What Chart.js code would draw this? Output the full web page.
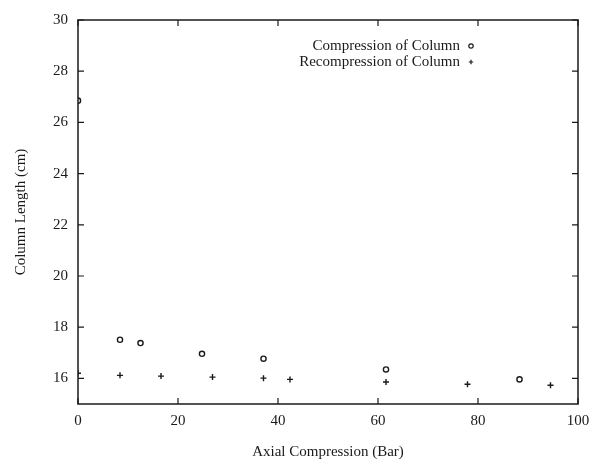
<!DOCTYPE html>
<html><head><meta charset="utf-8">
<script src="https://cdn.jsdelivr.net/npm/chart.js@4/dist/chart.umd.min.js"></script>
<style>html,body{margin:0;padding:0;background:#fff;}#wrap{width:590px;height:462px;}</style>
</head><body><div id="wrap"><canvas id="c" width="590" height="462"></canvas></div>
<script>
const compressionX = [0, 8.4, 12.5, 24.8, 37.1, 61.6, 88.3];
const compressionY = [26.85, 17.51, 17.38, 16.96, 16.77, 16.35, 15.96];
const recompressionX = [0, 8.4, 16.6, 26.9, 37.1, 42.4, 61.6, 77.9, 94.5];
const recompressionY = [16.2, 16.12, 16.09, 16.05, 16.01, 15.96, 15.86, 15.77, 15.73];
const xTicks = [0, 20, 40, 60, 80, 100];
const yTicks = [16, 18, 20, 22, 24, 26, 28, 30];
const seriesNames = ['Compression of Column', 'Recompression of Column'];
const xTitle = 'Axial Compression (Bar)';
const yTitle = 'Column Length (cm)';

const FONT = '"Liberation Serif", "DejaVu Serif", serif';
const INK = '#1a1a1a';

const toPts = (xs, ys) => xs.map((x, i) => ({x: x, y: ys[i]}));

const framePlugin = {
  id: 'frame',
  afterDraw(chart) {
    const {ctx, chartArea: a, scales} = chart;
    ctx.save();
    ctx.strokeStyle = INK;
    ctx.lineWidth = 1.5;
    ctx.strokeRect(a.left, a.top, a.right - a.left, a.bottom - a.top);
    ctx.lineWidth = 1.2;
    const L = 6;
    ctx.beginPath();
    xTicks.forEach(v => {
      const px = scales.x.getPixelForValue(v);
      ctx.moveTo(px, a.bottom); ctx.lineTo(px, a.bottom - L);
      ctx.moveTo(px, a.top); ctx.lineTo(px, a.top + L);
    });
    yTicks.forEach(v => {
      const py = scales.y.getPixelForValue(v);
      ctx.moveTo(a.left, py); ctx.lineTo(a.left + L, py);
      ctx.moveTo(a.right, py); ctx.lineTo(a.right - L, py);
    });
    ctx.stroke();
    // legend (gnuplot style: text then marker)
    ctx.font = '15px ' + FONT;
    ctx.textAlign = 'right';
    ctx.textBaseline = 'middle';
    const lx = 460, mx = 471, ly = [46, 62];
    chart.data.datasets.forEach((ds, i) => {
      ctx.fillStyle = INK;
      ctx.fillText(ds.label, lx, ly[i]);
      ctx.fillStyle = '#fff';
      ctx.strokeStyle = INK;
      Chart.helpers.drawPoint(ctx, {pointStyle: ds.pointStyle, radius: 2.2, borderWidth: 1}, mx, ly[i]);
    });
    ctx.restore();
  }
};

new Chart(document.getElementById('c'), {
  type: 'scatter',
  data: {
    datasets: [
      {label: seriesNames[0], data: toPts(compressionX, compressionY), pointStyle: 'circle',
       pointRadius: 2.6, borderColor: INK, backgroundColor: '#fff', borderWidth: 1.4},
      {label: seriesNames[1], data: toPts(recompressionX, recompressionY), pointStyle: 'cross',
       pointRadius: 3, borderColor: INK, backgroundColor: INK, borderWidth: 1.4}
    ]
  },
  options: {
    responsive: false,
    animation: false,
    devicePixelRatio: 1,
    layout: {padding: {top: 20, right: 12, left: 0, bottom: 0}},
    plugins: {legend: {display: false}, tooltip: {enabled: false}},
    scales: {
      x: {
        type: 'linear', min: 0, max: 100,
        afterBuildTicks: s => { s.ticks = xTicks.map(v => ({value: v})); },
        afterFit: s => { s.height = 58; s.paddingLeft = 0; s.paddingRight = 0; },
        grid: {display: false, drawTicks: false},
        border: {display: false},
        ticks: {color: INK, font: {family: FONT, size: 15}, padding: 8, maxRotation: 0, autoSkip: false},
        title: {display: true, text: xTitle, color: INK, font: {family: FONT, size: 15}, padding: {top: 0, bottom: 1}}
      },
      y: {
        type: 'linear', min: 15, max: 30,
        afterBuildTicks: s => { s.ticks = yTicks.map(v => ({value: v})); },
        afterFit: s => { s.width = 78; s.paddingTop = 0; s.paddingBottom = 0; },
        grid: {display: false, drawTicks: false},
        border: {display: false},
        ticks: {color: INK, font: {family: FONT, size: 15}, padding: 10, autoSkip: false},
        title: {display: true, text: yTitle, color: INK, font: {family: FONT, size: 15}, padding: {top: 12, bottom: 0}}
      }
    }
  },
  plugins: [framePlugin]
});
</script></body></html>
